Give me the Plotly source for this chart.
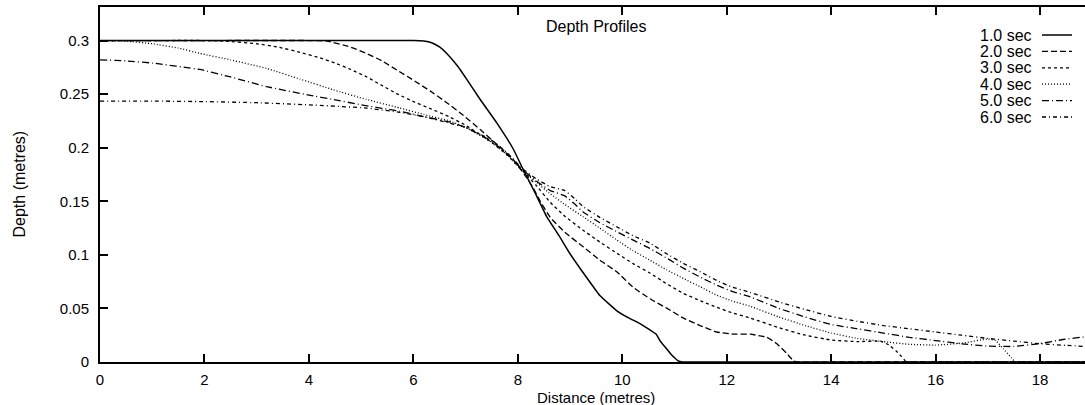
import plotly.graph_objects as go

# ---------------- data ----------------
series_names = ["1.0 sec", "2.0 sec", "3.0 sec", "4.0 sec", "5.0 sec", "6.0 sec"]

x_1s = [0, 2, 4, 6.0, 6.2, 6.35, 6.5, 6.64, 6.85, 7.02, 7.28, 7.6, 7.91, 8.1, 8.35, 8.55, 8.8, 9.0,
        9.3, 9.57, 9.75, 9.89, 10.05, 10.21, 10.4, 10.53, 10.65, 10.72, 10.82, 10.92, 11.0, 11.07,
        11.15, 12, 14, 16, 18, 19]
depth_1s = [0.3, 0.3, 0.3, 0.3, 0.2995, 0.298, 0.294, 0.288, 0.276, 0.264, 0.245, 0.223, 0.199,
            0.180, 0.156, 0.136, 0.117, 0.101, 0.080, 0.062, 0.054, 0.048, 0.043, 0.039, 0.034,
            0.030, 0.026, 0.020, 0.014, 0.008, 0.004, 0.001, 0, 0, 0, 0, 0, 0]

x_2s = [0, 2, 4, 4.35, 4.79, 5.1, 5.4, 5.7, 6.0, 6.32, 6.64, 6.96, 7.28, 7.6, 7.91, 8.17, 8.3,
        8.43, 8.62, 8.9, 9.25, 9.57, 9.9, 10.2, 10.53, 10.86, 11.17, 11.49, 11.81, 12.12, 12.45,
        12.77, 12.96, 13.15, 13.28, 13.35, 14, 16, 18, 19]
depth_2s = [0.3, 0.3, 0.3, 0.2995, 0.294, 0.288, 0.281, 0.272, 0.263, 0.253, 0.242, 0.230, 0.217,
            0.203, 0.189, 0.172, 0.162, 0.150, 0.135, 0.121, 0.1075, 0.095, 0.084, 0.070, 0.059,
            0.050, 0.041, 0.034, 0.028, 0.026, 0.026, 0.023, 0.017, 0.008, 0.001, 0, 0, 0, 0, 0]

x_3s = [0, 1, 2, 2.4, 3.0, 3.4, 3.83, 4.2, 4.5, 4.8, 5.11, 5.4, 5.7, 6.0, 6.35, 6.68, 7.0, 7.5,
        7.8, 8.1, 8.35, 8.62, 8.9, 9.25, 9.57, 9.9, 10.2, 10.53, 10.85, 11.17, 11.5, 11.81, 12.1,
        12.45, 13.0, 13.5, 14.0, 14.5, 14.94, 15.1, 15.25, 15.35, 15.42, 15.5, 16, 18, 19]
depth_3s = [0.3, 0.3, 0.3, 0.2995, 0.297, 0.294, 0.289, 0.284, 0.279, 0.273, 0.266, 0.258, 0.250,
            0.243, 0.236, 0.229, 0.221, 0.205, 0.193, 0.178, 0.165, 0.149, 0.136, 0.123, 0.112,
            0.1014, 0.092, 0.083, 0.073, 0.064, 0.057, 0.051, 0.046, 0.041, 0.032, 0.025, 0.0205,
            0.019, 0.0195, 0.016, 0.010, 0.005, 0.001, 0, 0, 0, 0]

x_4s = [0, 0.5, 1.0, 1.5, 1.91, 2.5, 3.19, 3.83, 4.47, 5.1, 5.74, 6.2, 6.69, 7.0, 7.5, 7.8, 8.1,
        8.35, 8.62, 8.9, 9.25, 9.57, 9.9, 10.2, 10.53, 10.85, 11.17, 11.5, 11.81, 12.1, 12.45,
        13.0, 13.5, 14.0, 14.5, 15.0, 15.5, 16.0, 16.5, 17.0, 17.15, 17.3, 17.45, 17.52, 17.6,
        18, 19]
depth_4s = [0.3, 0.2995, 0.297, 0.293, 0.288, 0.282, 0.274, 0.264, 0.254, 0.245, 0.237, 0.231,
            0.225, 0.219, 0.205, 0.193, 0.178, 0.168, 0.157, 0.147, 0.1355, 0.125, 0.1137, 0.104,
            0.095, 0.086, 0.078, 0.070, 0.0623, 0.057, 0.052, 0.042, 0.034, 0.027, 0.022, 0.019,
            0.0165, 0.0158, 0.0175, 0.0215, 0.020, 0.012, 0.004, 0.0, 0, 0, 0]

x_5s = [0, 0.5, 1.0, 1.91, 2.5, 3.19, 4.0, 4.47, 5.0, 5.74, 6.2, 6.69, 7.0, 7.5, 7.8, 8.1, 8.35,
        8.62, 8.9, 9.1, 9.25, 9.57, 9.9, 10.2, 10.53, 10.85, 11.17, 11.5, 11.81, 12.1, 12.45,
        13.0, 13.5, 14.0, 14.5, 15.0, 15.5, 16.0, 16.5, 17.0, 17.5, 18.0, 18.44, 18.86, 19]
depth_5s = [0.282, 0.281, 0.279, 0.273, 0.266, 0.257, 0.249, 0.245, 0.240, 0.234, 0.229, 0.224,
            0.219, 0.206, 0.194, 0.179, 0.169, 0.160, 0.155, 0.147, 0.140, 0.130, 0.1215, 0.114,
            0.106, 0.097, 0.0876, 0.079, 0.0717, 0.066, 0.0607, 0.050, 0.042, 0.035, 0.031,
            0.027, 0.023, 0.020, 0.017, 0.0148, 0.0145, 0.0172, 0.021, 0.0234, 0.023]

x_6s = [0, 1, 2, 3, 4, 5.1, 5.74, 6.2, 6.68, 7.0, 7.5, 7.8, 8.1, 8.35, 8.62, 8.9, 9.1, 9.25,
        9.57, 9.9, 10.2, 10.53, 10.85, 11.17, 11.5, 11.81, 12.1, 12.45, 13.0, 13.5, 14.0, 14.5,
        15.0, 15.5, 16.0, 16.5, 17.0, 17.5, 18.0, 18.5, 19]
depth_6s = [0.2435, 0.2435, 0.243, 0.242, 0.240, 0.237, 0.233, 0.229, 0.223, 0.219, 0.207, 0.195,
            0.180, 0.171, 0.1636, 0.160, 0.152, 0.145, 0.135, 0.126, 0.118, 0.111, 0.101, 0.092,
            0.084, 0.076, 0.070, 0.065, 0.056, 0.049, 0.0425, 0.038, 0.034, 0.031, 0.028, 0.025,
            0.022, 0.0195, 0.017, 0.0155, 0.014]

x_ticks = [0, 2, 4, 6, 8, 10, 12, 14, 16, 18]
y_ticks = [0, 0.05, 0.1, 0.15, 0.2, 0.25, 0.3]
y_tick_labels = ["0", "0.05", "0.1", "0.15", "0.2", "0.25", "0.3"]

title_text = "Depth Profiles"
x_title = "Distance (metres)"
y_title = "Depth (metres)"

# ---------------- styling ----------------
FONT = "Liberation Sans, Arial, Helvetica, sans-serif"
dashes = ["solid", "6px,3px", "3px,3px", "1px,2px", "7px,3px,1px,3px", "4px,3px,1px,3px"]
widths = [1.5, 1.3, 1.3, 1.3, 1.3, 1.3]

xs = [x_1s, x_2s, x_3s, x_4s, x_5s, x_6s]
ys = [depth_1s, depth_2s, depth_3s, depth_4s, depth_5s, depth_6s]

W, H = 1085, 405
ML, MR, MT, MB = 100, 0, 7, 43
PW, PH = W - ML - MR, H - MT - MB
X_MAX = 18.86
Y_MAX = 0.3313

fig = go.Figure()
for name, xv, yv, d, w in zip(series_names, xs, ys, dashes, widths):
    fig.add_trace(go.Scatter(x=xv, y=yv, mode="lines", name=name,
                             line=dict(color="black", width=w, dash=d, shape="spline",
                                       smoothing=0.3),
                             showlegend=False))

# custom gnuplot-style legend: text then line sample
def px_x(p):
    return (p - ML) / PW

def px_y(p):
    return (MT + PH - p) / PH

annotations = []
shapes = []
row0, step = 35, 16.4
for i, (name, d, w) in enumerate(zip(series_names, dashes, widths)):
    yc = row0 + i * step
    annotations.append(dict(text=name, xref="paper", yref="paper", x=px_x(1034), y=px_y(yc),
                            xanchor="right", yanchor="middle", showarrow=False,
                            font=dict(family=FONT, size=16, color="black")))
    shapes.append(dict(type="line", xref="paper", yref="paper",
                       x0=px_x(1042), x1=px_x(1072), y0=px_y(yc), y1=px_y(yc),
                       line=dict(color="black", width=w, dash=d)))

annotations.append(dict(text=title_text, xref="x", yref="paper", x=9.5, y=px_y(26),
                        xanchor="center", yanchor="middle", showarrow=False,
                        font=dict(family=FONT, size=16, color="black")))
annotations.append(dict(text=x_title, xref="x", yref="paper", x=9.5, y=px_y(397),
                        xanchor="center", yanchor="middle", showarrow=False,
                        font=dict(family=FONT, size=15, color="black")))
annotations.append(dict(text=y_title, xref="paper", yref="paper", x=px_x(19), y=0.5,
                        xanchor="center", yanchor="middle", showarrow=False, textangle=-90,
                        font=dict(family=FONT, size=16, color="black")))

fig.update_layout(
    width=W, height=H,
    margin=dict(l=ML, r=MR, t=MT, b=MB, pad=0),
    paper_bgcolor="white", plot_bgcolor="white",
    font=dict(family=FONT, size=16, color="black"),
    annotations=annotations, shapes=shapes,
    showlegend=False,
)
fig.update_xaxes(range=[0, X_MAX], tickvals=x_ticks, ticks="inside", ticklen=8, tickwidth=1.5,
                 tickcolor="black", showline=True, linecolor="black", linewidth=2,
                 mirror="ticks", showgrid=False, zeroline=False,
                 tickfont=dict(family=FONT, size=15, color="black"), ticklabelstandoff=3)
fig.update_yaxes(range=[0, Y_MAX], tickvals=y_ticks, ticktext=y_tick_labels, ticks="inside",
                 ticklen=8, tickwidth=1.5, tickcolor="black", showline=True, linecolor="black",
                 linewidth=2, mirror=False, showgrid=False, zeroline=False,
                 tickfont=dict(family=FONT, size=15, color="black"), ticklabelstandoff=6)

fig.write_html("out.html")
